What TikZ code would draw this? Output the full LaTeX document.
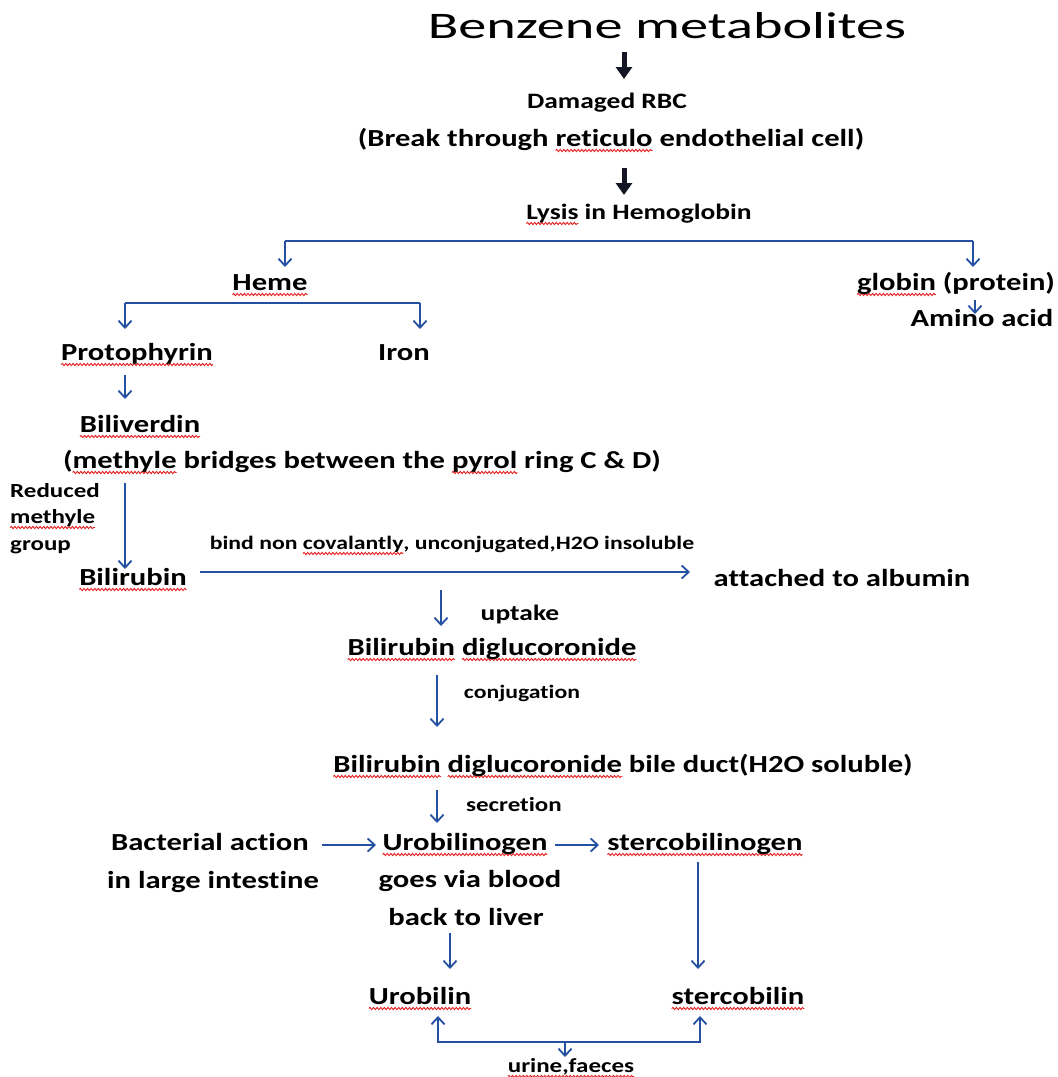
\documentclass[tikz,border=0pt]{standalone}
\usepackage{fontspec}
\setmainfont{Carlito}[FakeStretch=1.25, Ligatures=NoCommon]
\newfontfamily\titlefont{Carlito}[FakeStretch=1.5, Ligatures=NoCommon]
\usetikzlibrary{arrows.meta,decorations.pathmorphing}
\definecolor{arrblue}{RGB}{35,80,160}
\definecolor{darkarr}{RGB}{20,22,35}
\definecolor{wavered}{RGB}{230,30,30}
\tikzset{
  sqline/.style={draw=wavered, line width=0.9pt, decorate,
    decoration={snake, amplitude=1.1pt, segment length=3.6pt}},
  ttl/.style={inner sep=0pt, anchor=base, font=\titlefont\fontsize{37.5}{45}\selectfont},
  lbl/.style={inner sep=0pt, anchor=base, font=\bfseries\fontsize{24.5}{29}\selectfont},
  lbls/.style={inner sep=0pt, anchor=base, font=\bfseries\fontsize{22}{26}\selectfont},
  sml/.style={inner sep=0pt, anchor=base, font=\bfseries\fontsize{19}{23}\selectfont},
  smm/.style={inner sep=0pt, anchor=base, font=\bfseries\fontsize{20}{24}\selectfont},
  barr/.style={draw=arrblue, line width=1.8pt, -{Straight Barb[length=7pt,width=13pt,line width=1.8pt]}},
  bline/.style={draw=arrblue, line width=1.8pt},
  bigarr/.style={draw=darkarr, line width=5pt, -{Triangle[length=12pt,width=16pt]}}
}
\newsavebox\sqbox
\newcommand\sq[1]{\sbox\sqbox{#1}\leavevmode\rlap{\tikz[overlay,baseline=0pt]\path[sqline] (0pt,-4.5pt) -- (\the\wd\sqbox,-4.5pt);}\usebox\sqbox}
\begin{document}
\begin{tikzpicture}[x=1pt,y=-1pt]
\useasboundingbox[fill=white] (0,0) rectangle (1058,1077);
% texts
\node[ttl] (title) at (667,38) {Benzene metabolites};
\node[lbls] (dmg) at (607,108) {Damaged RBC};
\node[lbl] (brk) at (611,146) {(Break through \sq{reticulo} endothelial cell)};
\node[lbls] (lysis) at (639,219) {\sq{Lysis} in Hemoglobin};
\node[lbl] (heme) at (270,290) {\sq{Heme}};
\node[lbl] (globin) at (956,290) {\sq{globin} (protein)};
\node[lbl] (amino) at (982,326) {Amino acid};
\node[lbl] (proto) at (137,360) {\sq{Protophyrin}};
\node[lbl] (iron) at (404,360) {Iron};
\node[lbl] (bili) at (140,432) {\sq{Biliverdin}};
\node[lbl] (methb) at (362,468) {(\sq{methyle} bridges between the \sq{pyrol} ring C \& D)};
\node[smm,anchor=base west] (red1) at (10,497) {Reduced};
\node[smm,anchor=base west] (red2) at (10,523) {\sq{methyle}};
\node[smm,anchor=base west] (red3) at (10,550) {group};
\node[lbl] (bilir) at (133,585) {\sq{Bilirubin}};
\node[sml] (bind) at (452,549) {bind non \sq{covalantly}, unconjugated,H2O insoluble};
\node[lbl] (alb) at (842,586) {attached to albumin};
\node[lbls] (uptake) at (520,620) {uptake};
\node[lbl] (diglu1) at (492,655) {\sq{Bilirubin} \sq{diglucoronide}};
\node[sml] (conj) at (522,698) {conjugation};
\node[lbl] (diglu2) at (623,772) {\sq{Bilirubin} \sq{diglucoronide} bile duct(H2O soluble)};
\node[smm] (secr) at (514,811) {secretion};
\node[lbl] (bact) at (210,850) {Bacterial action};
\node[lbl] (intest) at (213,888) {in large intestine};
\node[lbl] (urogen) at (465,850) {\sq{Urobilinogen}};
\node[lbl] (sterogen) at (705,850) {\sq{stercobilinogen}};
\node[lbl] (goes) at (470,887) {goes via blood};
\node[lbl] (back) at (466,925) {back to liver};
\node[lbl] (urob) at (420,1004) {\sq{Urobilin}};
\node[lbl] (sterc) at (738,1004) {\sq{stercobilin}};
\node[smm] (urine) at (571,1072) {\sq{urine,faeces}};
% coordinates
\coordinate (t1) at (624,52);   \coordinate (t2) at (624,79);
\coordinate (t3) at (624,168);  \coordinate (t4) at (624,195);
\coordinate (hl) at (285,241);  \coordinate (hr) at (973,241);
\coordinate (hlb) at (285,267); \coordinate (hrb) at (973,267);
\coordinate (g1) at (975,300);  \coordinate (g2) at (975,314);
\coordinate (el) at (125,303);  \coordinate (er) at (420,303);
\coordinate (elb) at (125,329); \coordinate (erb) at (420,329);
\coordinate (p1) at (125,375);  \coordinate (p2) at (125,399);
\coordinate (v1) at (125,483);  \coordinate (v2) at (125,569);
\coordinate (b1) at (200,572);  \coordinate (b2) at (690,572);
\coordinate (u1) at (441,590);  \coordinate (u2) at (441,626);
\coordinate (c1) at (437,675);  \coordinate (c2) at (437,727);
\coordinate (s1) at (437,790);  \coordinate (s2) at (437,823);
\coordinate (k1) at (322,845);  \coordinate (k2) at (376,845);
\coordinate (k3) at (555,845);  \coordinate (k4) at (599,845);
\coordinate (l1) at (450,933);  \coordinate (l2) at (450,969);
\coordinate (m1) at (698,862);  \coordinate (m2) at (698,969);
\coordinate (ua) at (438,1016); \coordinate (ub) at (438,1042);
\coordinate (sa) at (700,1016); \coordinate (sb) at (700,1042);
\coordinate (d1) at (565,1042); \coordinate (d2) at (565,1057);
% arrows
\draw[bigarr] (t1) -- (t2);
\draw[bigarr] (t3) -- (t4);
\draw[bline] (hl) -- (hr);
\draw[barr] (hl) -- (hlb);
\draw[barr] (hr) -- (hrb);
\draw[barr] (g1) -- (g2);
\draw[bline] (el) -- (er);
\draw[barr] (el) -- (elb);
\draw[barr] (er) -- (erb);
\draw[barr] (p1) -- (p2);
\draw[barr] (v1) -- (v2);
\draw[barr] (b1) -- (b2);
\draw[barr] (u1) -- (u2);
\draw[barr] (c1) -- (c2);
\draw[barr] (s1) -- (s2);
\draw[barr] (k1) -- (k2);
\draw[barr] (k3) -- (k4);
\draw[barr] (l1) -- (l2);
\draw[barr] (m1) -- (m2);
\draw[barr,{Straight Barb[length=7pt,width=13pt,line width=1.8pt]}-{Straight Barb[length=7pt,width=13pt,line width=1.8pt]}] (ua) -- (ub) -- (sb) -- (sa);
\draw[barr] (d1) -- (d2);
\end{tikzpicture}
\end{document}
